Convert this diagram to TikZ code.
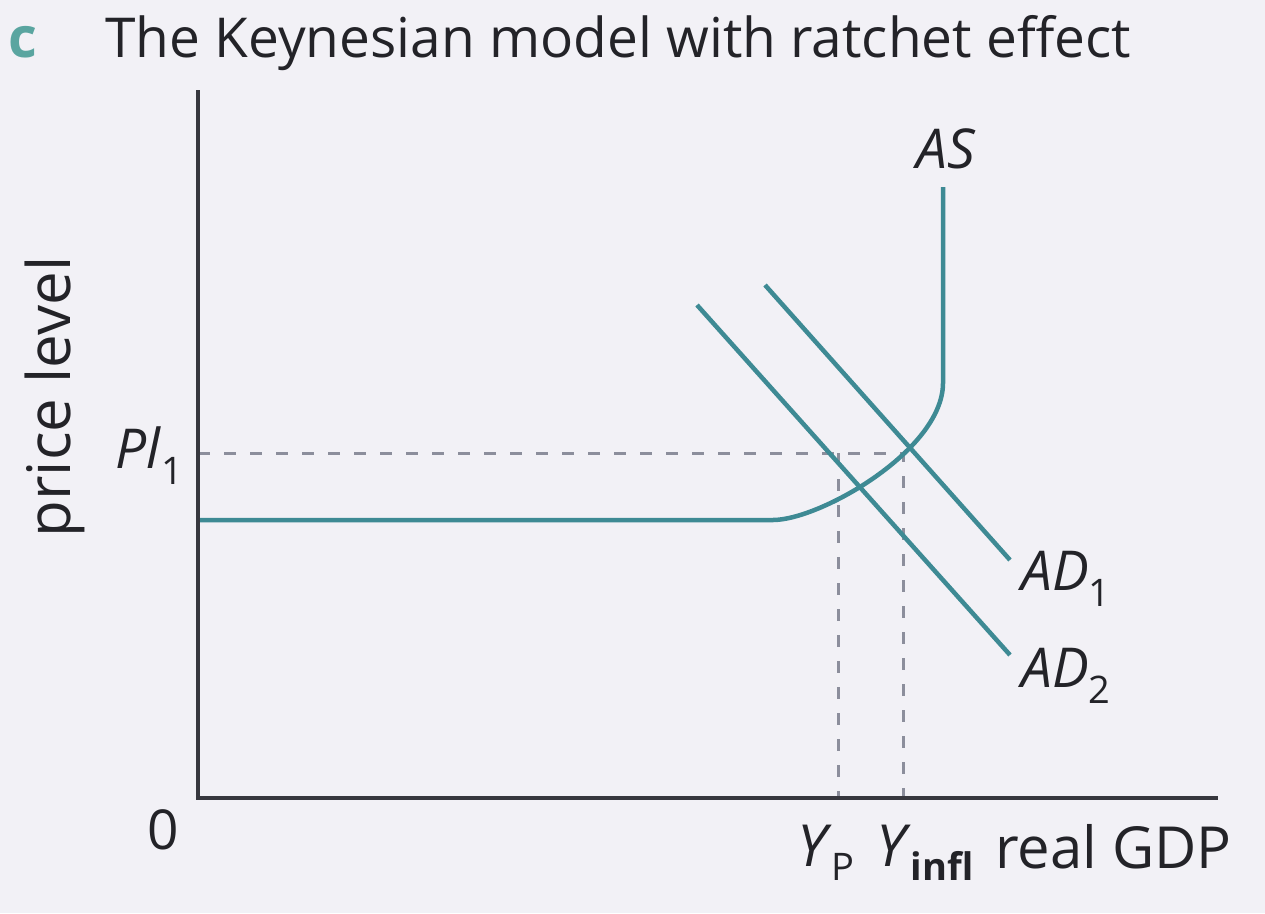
\documentclass[tikz,border=0pt]{standalone}
\usepackage{fontspec}
\setmainfont{Open Sans}
\definecolor{bg}{RGB}{242,241,246}
\definecolor{tealc}{RGB}{62,138,148}
\definecolor{axisc}{RGB}{55,55,62}
\definecolor{dashc}{RGB}{140,142,156}
\definecolor{ctitle}{RGB}{90,165,160}
\definecolor{txt}{RGB}{35,35,40}
\newcommand{\lblsize}{\fontsize{55}{58}\selectfont}
\newcommand{\subsz}{\fontsize{38}{40}\selectfont}
\begin{document}
\begin{tikzpicture}[x=1pt,y=-1pt,
  curve/.style={tealc, line width=4.5pt},
  guide/.style={dashc, line width=3pt, dash pattern=on 12pt off 14pt},
  axisline/.style={axisc, line width=4.5pt},
  lbl/.style={text=txt, font=\lblsize, inner sep=0pt}]
\fill[bg] (0,0) rectangle (1265,913);
\useasboundingbox (0,0) rectangle (1265,913);
% title
\node[lbl, anchor=base west, text=ctitle, font=\fontsize{56}{60}\selectfont\bfseries] (tc) at (8,57) {c};
\node[lbl, anchor=base west, font=\fontsize{55}{60}\selectfont] (title) at (105,57) {The Keynesian model with ratchet effect};
% coordinates
\coordinate (O) at (198,798);
\coordinate (ytop) at (198,90);
\coordinate (xend) at (1218,798);
\coordinate (as0) at (198,520);
\coordinate (as1) at (773,520);
\coordinate (as2) at (943,383);
\coordinate (as3) at (943,187);
\coordinate (ad1a) at (765,285);
\coordinate (ad1b) at (1010,560);
\coordinate (ad2a) at (697,305);
\coordinate (ad2b) at (1010,655);
\coordinate (pl) at (198,453);
\coordinate (e1) at (903,453);
\coordinate (yi) at (903,798);
\coordinate (e2) at (838,453);
\coordinate (yp) at (838,798);
% guides
\draw[guide] (pl) -- (e1) -- (yi);
\draw[guide] (e2) -- (yp);
% curves
\draw[curve] (as0) -- (as1) .. controls (820,520) and (943,450) .. (as2) -- (as3);
\draw[curve] (ad1a) -- (ad1b);
\draw[curve] (ad2a) -- (ad2b);
% axes
\draw[axisline] (ytop) -- (O) -- (xend);
% labels
\node[lbl, anchor=base west] (asl) at (916,168) {\textit{AS}};
\node[lbl, anchor=base west] (ad1l) at (1021,590) {\textit{AD}\raisebox{-0.3em}{\subsz 1}};
\node[lbl, anchor=base west] (ad2l) at (1021,687) {\textit{AD}\raisebox{-0.3em}{\subsz 2}};
\node[lbl, anchor=base west] (pll) at (115,468) {\textit{Pl}\raisebox{-0.3em}{\subsz 1}};
\node[lbl, anchor=center] (zero) at (163,830) {0};
\node[lbl, anchor=base west, font=\fontsize{58}{60}\selectfont] (ypl) at (797,866) {\textit{Y}\raisebox{-0.25em}{\subsz P}};
\node[lbl, anchor=base west, font=\fontsize{58}{60}\selectfont] (yil) at (876,866) {\textit{Y}\raisebox{-0.25em}{\subsz\bfseries infl}};
\node[lbl, anchor=base west, font=\fontsize{58}{60}\selectfont] (gdp) at (995,868) {real GDP};
\node[lbl, rotate=90, anchor=center, font=\fontsize{60}{62}\selectfont] (pricel) at (55,397) {price level};
\end{tikzpicture}
\end{document}
